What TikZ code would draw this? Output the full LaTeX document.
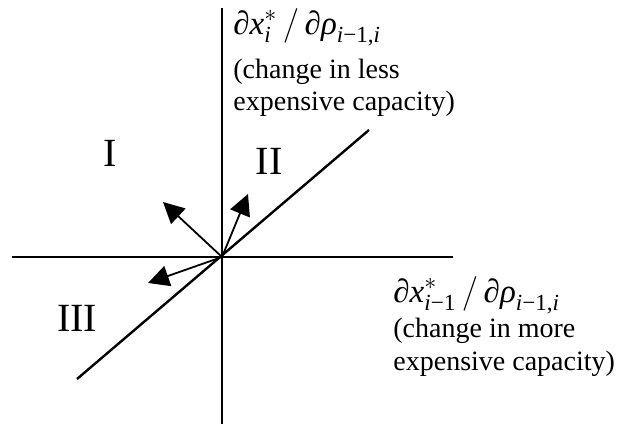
\documentclass[tikz,border=0pt]{standalone}
\usepackage{amsmath}
\usepackage{fontspec}
\setmainfont{Liberation Serif}
\usetikzlibrary{arrows.meta}
\newcommand\tx[1]{\text{\itshape #1}}
\begin{document}
\begin{tikzpicture}[x=0.5pt,y=-0.5pt,
  axis/.style={line width=1pt},
  diag/.style={line width=1.2pt},
  vec/.style={line width=0.9pt,-{Triangle[length=10.5pt,width=10.5pt]}},
  lbl/.style={anchor=base west,inner sep=0pt,font=\fontsize{14}{16}\selectfont},
  mlbl/.style={anchor=base west,inner sep=0pt,font=\fontsize{16.5}{19}\selectfont},
  num/.style={inner sep=0pt,font=\fontsize{20}{24}\selectfont}]
\useasboundingbox (0,0) rectangle (620,428);
\coordinate (O) at (222,257);
\coordinate (T) at (222,8);
\coordinate (B) at (222,424);
\coordinate (L) at (12,257);
\coordinate (R) at (453,257);
\coordinate (D1) at (77,379);
\coordinate (D2) at (369,130);
\coordinate (A1) at (163,202);
\coordinate (A2) at (248,194);
\coordinate (A3) at (148,283);
\draw[axis] (T) -- (B);
\draw[axis] (L) -- (R);
\draw[diag] (D1) -- (D2);
\draw[vec] (O) -- (A1);
\draw[vec] (O) -- (A2);
\draw[vec] (O) -- (A3);
\node[num] (n1) at (110.5,153) {I};
\node[num] (n2) at (269,161.5) {II};
\node[num] (n3) at (77,318) {III};
\node[mlbl] (ty) at (233,34) {$\text{∂}\tx{x}^{*}_{\tx{i}}\,/\,\text{∂}\tx{ρ}_{\tx{i}\text{−1,}\tx{i}}$};
\node[lbl] (ty1) at (233,78) {(change in less};
\node[lbl] (ty2) at (233,110) {expensive capacity)};
\node[mlbl] (tx) at (393,302) {$\text{∂}\tx{x}^{*}_{\tx{i}\text{−1}}\,/\,\text{∂}\tx{ρ}_{\tx{i}\text{−1,}\tx{i}}$};
\node[lbl] (tx1) at (393,337) {(change in more};
\node[lbl] (tx2) at (393,370) {expensive capacity)};
\end{tikzpicture}
\end{document}
